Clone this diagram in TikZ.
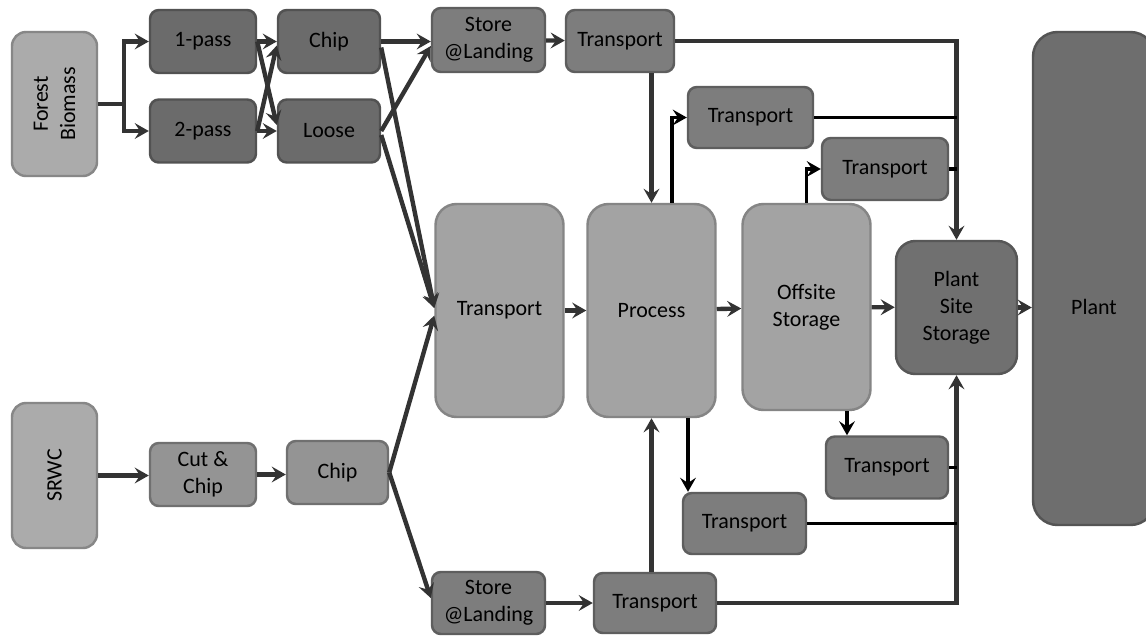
\documentclass[tikz,border=0pt]{standalone}
\usepackage{fontspec}
\setmainfont{Carlito}
\usetikzlibrary{arrows.meta, positioning, calc}

\begin{document}
\begin{tikzpicture}[
  box/.style={rectangle,rounded corners=5pt,line width=1.4pt,align=center,font=\fontsize{12.5}{15.5}\selectfont,inner sep=2pt},
  src/.style={box,draw=black!47,fill=black!33,rounded corners=8pt,minimum width=2.88cm,minimum height=1.70cm,rotate=90},
  dk/.style={box,draw=black!68,fill=black!58,minimum height=1.26cm},
  md/.style={box,draw=black!56,fill=black!42,minimum height=1.26cm},
  tr/.style={box,draw=black!63,fill=black!51,minimum height=1.24cm},
  big/.style={box,draw=black!48,fill=black!36,rounded corners=12pt,minimum width=2.56cm},
  arr/.style={-{Stealth[length=8pt,width=9pt,inset=3pt]},line width=2.5pt,draw=black!80},
  blk/.style={line width=2.2pt,draw=black},
  blka/.style={blk,-{Stealth[length=8pt,width=9pt,inset=3pt]}}
]
  \useasboundingbox[fill=white] (0,0) rectangle (22.92,-12.78);

  % sources (rotated, so .south is the right side)
  \node[src] (fb)   at (1.09,-2.08) {Forest\\Biomass};
  \node[src,minimum width=2.90cm] (srwc) at (1.09,-9.51) {SRWC};

  \node[dk,minimum width=2.12cm] (p1)    at (4.06,-0.83)  {1-pass};
  \node[dk,minimum width=2.12cm] (p2)    at (4.06,-2.62)  {2-pass};
  \node[dk,minimum width=2.04cm] (chipA) at (6.58,-0.83)  {Chip};
  \node[dk,minimum width=2.04cm] (loose) at (6.58,-2.62)  {Loose};
  \node[tr,minimum width=2.26cm,minimum height=1.28cm] (storeA) at (9.77,-0.80) {Store\\@Landing};
  \node[tr,minimum width=2.16cm] (trA)   at (12.40,-0.82) {Transport};
  \node[tr,minimum width=2.50cm,minimum height=1.22cm] (trB) at (15.01,-2.35) {Transport};
  \node[tr,minimum width=2.52cm] (trC)   at (17.70,-3.38) {Transport};

  \node[big,minimum height=4.26cm] (trBig) at (9.99,-6.21)  {Transport};
  \node[big,minimum height=4.26cm] (proc)  at (13.03,-6.21) {Process};
  \node[big,minimum height=4.12cm] (off)   at (16.13,-6.14) {Offsite\\Storage};
  \node[box,draw=black!66,fill=black!56,rounded corners=11pt,minimum width=2.42cm,minimum height=2.66cm] (pss) at (19.13,-6.15) {Plant\\Site\\Storage};
  \node[box,draw=black!67,fill=black!57,rounded corners=14pt,minimum width=2.44cm,minimum height=9.86cm,text height=1.45cm,text depth=0pt] (plant) at (21.88,-5.57) {Plant};

  \node[tr,minimum width=2.46cm,minimum height=1.22cm] (trD) at (14.89,-10.47) {Transport};
  \node[tr,minimum width=2.44cm] (trE)   at (17.74,-9.35)  {Transport};

  \node[md,minimum width=2.12cm] (cut)   at (4.06,-9.49)  {Cut \&\\Chip};
  \node[md,minimum width=2.02cm] (chipB) at (6.75,-9.45)  {Chip};
  \node[tr,minimum width=2.26cm,minimum height=1.24cm] (storeB) at (9.77,-12.06) {Store\\@Landing};
  \node[tr,minimum width=2.44cm,minimum height=1.20cm] (trF) at (13.10,-12.06) {Transport};

  % forest branch
  \draw[arr] (fb.south) -- ++(0.52,0) |- (p1.west);
  \draw[arr] (fb.south) -- ++(0.52,0) |- (p2.west);
  \draw[arr] (p1) -- (chipA);
  \draw[arr] (p2) -- (loose);
  \draw[arr] (p1.east) -- ([yshift=0.12cm]loose.west);
  \draw[arr] (p2.east) -- ([yshift=-0.08cm]chipA.west);
  \draw[arr] (chipA.east) -- (chipA.east -| storeA.west);
  \draw[arr] (loose.east) -- ([yshift=-0.12cm]storeA.west);
  \draw[arr] ([yshift=-0.12cm]chipA.east) -- ([yshift=0.05cm]trBig.west);
  \draw[arr] ([yshift=-0.08cm]loose.east) -- ([yshift=0.05cm]trBig.west);
  \draw[arr] (storeA) -- (trA);
  \draw[arr] (trA.south -| proc.north) -- (proc.north);

  % SRWC branch
  \draw[arr] (srwc.south) -- (srwc.south -| cut.west);
  \draw[arr] (cut.east) -- (cut.east -| chipB.west);
  \draw[arr] (chipB.east) -- ([yshift=-0.1cm]trBig.west);
  \draw[arr] (chipB.east) -- ([yshift=0.1cm]storeB.west);
  \draw[arr] (storeB) -- (trF);
  \draw[arr] (proc.south |- trF.north) -- (proc.south);

  % main chain
  \draw[arr] (trBig) -- (proc);
  \draw[arr] (proc) -- (off);
  \draw[arr] (off) -- (pss);
  \draw[arr] (pss.east) -- (pss.east -| plant.west);

  % side transports
  \draw[blka] ([xshift=0.41cm]proc.north) |- (trB.west);
  \draw[blka] (off.north) |- (trC.west);
  \draw[blka] ([xshift=0.73cm]proc.south) -- ([xshift=0.73cm]proc.south |- trD.north);
  \draw[blka] ([xshift=0.81cm]off.south) -- ([xshift=0.81cm]off.south |- trE.north);

  % into plant site storage
  \draw[arr] (trA.east) -| (pss.north);
  \draw[blk] (trB.east) -- (trB.east -| pss.north);
  \draw[blk] (trC.east) -- (trC.east -| pss.north);
  \draw[arr] (trF.east) -| (pss.south);
  \draw[blk] (trD.east) -- (trD.east -| pss.south);
  \draw[blk] (trE.east) -- (trE.east -| pss.south);
\end{tikzpicture}
\end{document}
